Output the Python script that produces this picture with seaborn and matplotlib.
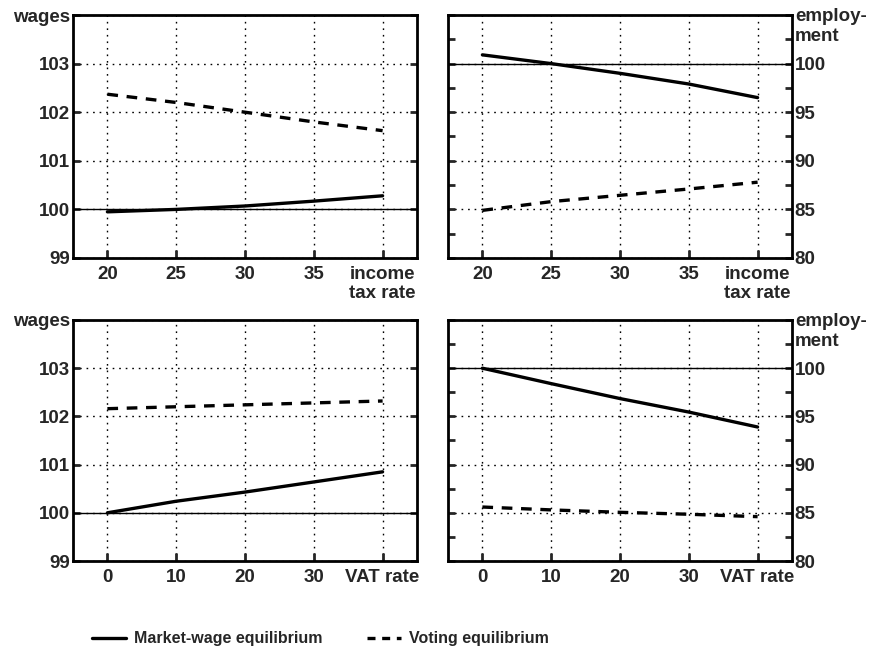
import pandas as pd
import matplotlib.pyplot as plt
import seaborn as sns
from matplotlib.ticker import MultipleLocator
from matplotlib.lines import Line2D

# data
income_tax = [20, 25, 30, 35, 40]
vat = [0, 10, 20, 30, 40]

wage_income_market = [99.95, 100.0, 100.07, 100.17, 100.28]
wage_income_voting = [102.37, 102.2, 102.0, 101.8, 101.62]
emp_income_market = [100.9, 100.0, 99.0, 97.9, 96.5]
emp_income_voting = [84.9, 85.8, 86.45, 87.1, 87.8]

wage_vat_market = [100.0, 100.24, 100.43, 100.64, 100.85]
wage_vat_voting = [102.16, 102.2, 102.24, 102.28, 102.32]
emp_vat_market = [100.0, 98.4, 96.85, 95.45, 93.9]
emp_vat_voting = [85.6, 85.3, 85.05, 84.85, 84.6]

MARKET = "Market-wage equilibrium"
VOTING = "Voting equilibrium"

sns.set_style("ticks")
plt.rcParams['font.family'] = ['Liberation Sans', 'DejaVu Sans']
plt.rcParams['font.weight'] = 'bold'
plt.rcParams['font.size'] = 13.5


def long_df(x, market, voting):
    return pd.DataFrame({
        'x': list(x) * 2,
        'y': list(market) + list(voting),
        'series': [MARKET] * len(x) + [VOTING] * len(x),
    })


fig = plt.figure(figsize=(8.71, 6.48), dpi=100)
L, R = 73 / 871, 417 / 871
L2, R2 = 448 / 871, 792 / 871
W = R - L
top_b, top_h = 1 - 258 / 648, (258 - 15) / 648
bot_b, bot_h = 1 - 561 / 648, (561 - 320) / 648

ax_tl = fig.add_axes([L, top_b, W, top_h])
ax_tr = fig.add_axes([L2, top_b, W, top_h])
ax_bl = fig.add_axes([L, bot_b, W, bot_h])
ax_br = fig.add_axes([L2, bot_b, W, bot_h])

panels = [
    (ax_tl, income_tax, wage_income_market, wage_income_voting, 'wages'),
    (ax_tr, income_tax, emp_income_market, emp_income_voting, 'emp'),
    (ax_bl, vat, wage_vat_market, wage_vat_voting, 'wages'),
    (ax_br, vat, emp_vat_market, emp_vat_voting, 'emp'),
]

dash = (3.2, 2.6)
for ax, x, m, v, kind in panels:
    df = long_df(x, m, v)
    ax.axhline(100, color='black', lw=1.0, zorder=1)
    sns.lineplot(data=df, x='x', y='y', style='series', color='black',
                 dashes={MARKET: '', VOTING: dash}, lw=2.4, ax=ax,
                 legend=False, zorder=3)
    ax.set_xlabel('')
    ax.set_ylabel('')

    if x[0] == 20:
        ax.set_xlim(17.5, 42.5)
        ax.set_xticks(income_tax)
        ax.set_xticklabels(['20', '25', '30', '35', 'income\ntax rate'],
                           linespacing=1.1)
    else:
        ax.set_xlim(-5, 45)
        ax.set_xticks(vat)
        ax.set_xticklabels(['0', '10', '20', '30', 'VAT rate'])

    if kind == 'wages':
        ax.set_ylim(99, 104)
        ax.set_yticks([99, 100, 101, 102, 103, 104])
        ax.set_yticklabels(['99', '100', '101', '102', '103', 'wages'])
        ax.tick_params(axis='y', which='both', direction='in', left=True,
                       right=True, length=5, width=2, pad=2)
    else:
        ax.set_ylim(80, 105)
        ax.set_yticks([80, 85, 90, 95, 100, 105])
        ax.set_yticklabels(['80', '85', '90', '95', '100', ''])
        ax.yaxis.set_minor_locator(MultipleLocator(2.5))
        ax.yaxis.tick_right()
        ax.tick_params(axis='y', which='both', direction='in', left=True,
                       right=True, length=5, width=2, pad=2)
        ax.text(1.008, 1.03, 'employ-\nment', transform=ax.transAxes,
                ha='left', va='top', linespacing=1.25)

    ax.tick_params(axis='x', direction='in', length=6, width=2, pad=6,
                   bottom=True, top=False)
    ax.grid(True, which='major', linestyle=(0, (1.2, 3.5)), color='black',
            lw=1.0, zorder=0)
    for s in ax.spines.values():
        s.set_visible(True)
        s.set_linewidth(2.0)
        s.set_color('black')

handles = [
    Line2D([], [], color='black', lw=2.4),
    Line2D([], [], color='black', lw=2.4, ls=(0, (2.4, 2.0))),
]
fig.legend(handles, [MARKET, VOTING], loc='center', ncol=2,
           bbox_to_anchor=(0.368, 1 - 639 / 648), frameon=False,
           handlelength=2.1, columnspacing=2.8, handletextpad=0.5,
           prop={'weight': 'bold', 'size': 11.5})

plt.savefig('out.png', dpi=100)
